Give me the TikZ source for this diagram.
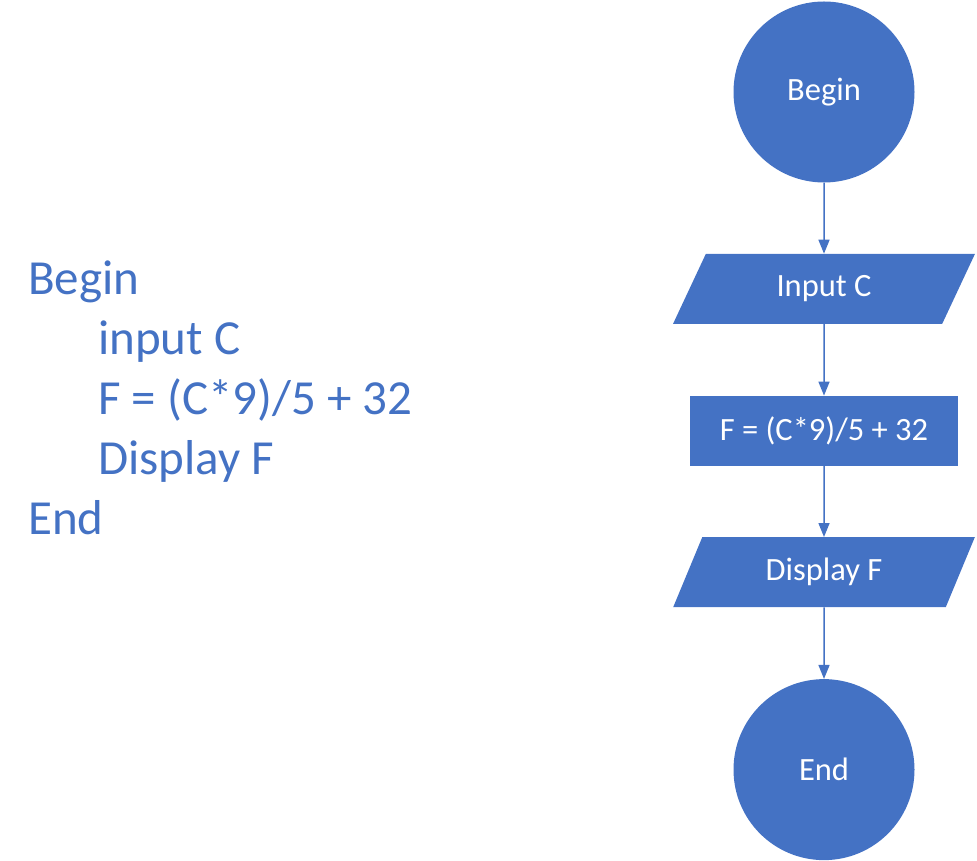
\documentclass[tikz,border=0pt]{standalone}
\usepackage{fontspec}
\setmainfont{Carlito}
\usetikzlibrary{positioning,shapes.geometric,arrows.meta}
\definecolor{flowblue}{HTML}{4472C4}
\tikzset{
    term-circle/.style = {circle, fill=flowblue, text=white, minimum size=181pt, inner sep=0pt, font=\fontsize{32.5}{38}\selectfont},
    io-box/.style = {trapezium, trapezium left angle=63.4, trapezium right angle=116.6, trapezium stretches=true, fill=flowblue, text=white, minimum width=302pt, minimum height=70pt, inner sep=0pt, font=\fontsize{32.5}{38}\selectfont},
    proc-box/.style = {rectangle, fill=flowblue, text=white, minimum width=268pt, minimum height=70pt, inner sep=0pt, font=\fontsize{32.5}{38}\selectfont},
    code-line/.style = {anchor=base west, inner sep=0pt, text=flowblue, font=\fontsize{49}{58}\selectfont},
    flow-arrow/.style = {draw=flowblue, line width=1.5pt, -{Triangle[length=14pt,width=11pt]}},
}
\begin{document}
\begin{tikzpicture}[x=1pt,y=1pt]
\useasboundingbox (0,0) rectangle (977,860);
% pseudocode
\node[code-line] (code-begin) at (28,565) {Begin};
\node[code-line] (code-input) at (98,505) {input C};
\node[code-line] (code-calc) at (98,445) {F = (C*9)/5 + 32};
\node[code-line] (code-show) at (98,385) {Display F};
\node[code-line] (code-end) at (28,325) {End};
% flowchart
\node[term-circle] (begin) at (824,768) {Begin};
\node[io-box, below=71pt of begin] (input) {Input C};
\node[proc-box, below=71.5pt of input] (calc) {F = (C*9)/5 + 32};
\node[io-box, below=71pt of calc] (show) {Display F};
\node[term-circle, below=71.5pt of show] (end) {End};
\foreach \a/\b in {begin/input, input/calc, calc/show, show/end}
    \draw[flow-arrow] (\a) -- (\b);
\end{tikzpicture}
\end{document}
